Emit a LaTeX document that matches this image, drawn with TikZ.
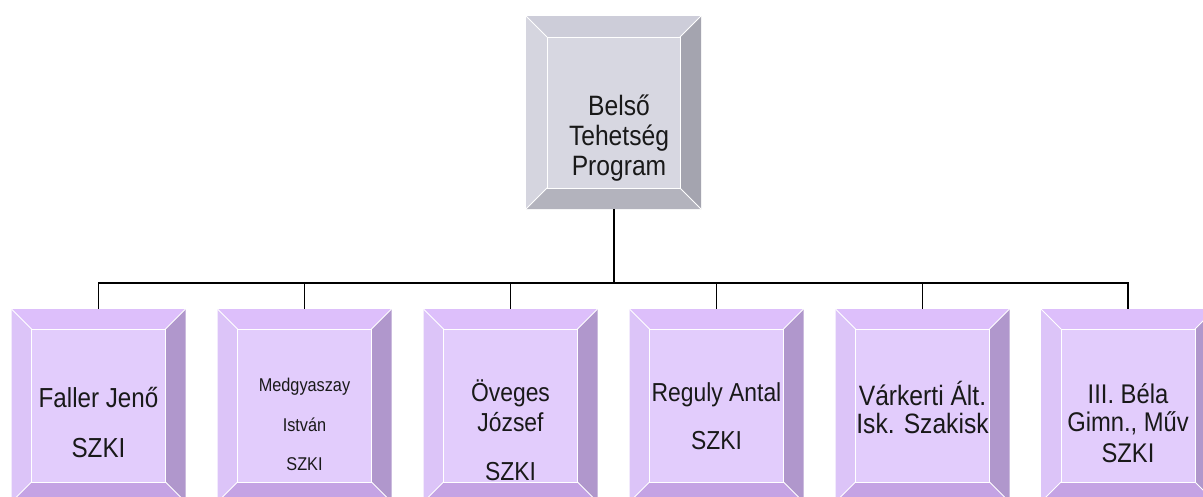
\documentclass[tikz,border=0pt]{standalone}
\usepackage{fontspec}
\setmainfont{Liberation Sans}[FakeStretch=0.88]
\definecolor{gface}{RGB}{215,215,225}
\definecolor{gtop}{RGB}{205,205,217}
\definecolor{gleft}{RGB}{213,213,223}
\definecolor{gright}{RGB}{164,164,175}
\definecolor{gbottom}{RGB}{179,179,189}
\definecolor{pface}{RGB}{226,204,252}
\definecolor{ptop}{RGB}{221,191,251}
\definecolor{pleft}{RGB}{220,196,248}
\definecolor{pright}{RGB}{176,151,204}
\definecolor{pbottom}{RGB}{196,163,228}
\tikzset{
  conn/.style={draw=black, line width=1.5pt},
  face/.style={draw=white, line width=1pt, inner sep=0pt, outer sep=0pt},
  bevline/.style={draw=white, line width=1pt},
  lbl/.style={anchor=base, inner sep=0pt, text=black!90},
}
\newcommand{\bevbox}[7]{%
  \pgfmathsetmacro\xa{#2-#4}\pgfmathsetmacro\xb{#2+#4}%
  \pgfmathsetmacro\ya{#3-#5}\pgfmathsetmacro\yb{#3+#5}%
  \pgfmathsetmacro\xc{#2-#4+#6}\pgfmathsetmacro\xd{#2+#4-#6}%
  \pgfmathsetmacro\yc{#3-#5+#6}\pgfmathsetmacro\yd{#3+#5-#6}%
  \pgfmathsetmacro\iw{2*(#4-#6)}\pgfmathsetmacro\ih{2*(#5-#6)}%
  \fill[#7top] (\xa,\ya) -- (\xb,\ya) -- (\xd,\yc) -- (\xc,\yc) -- cycle;
  \fill[#7left] (\xa,\ya) -- (\xc,\yc) -- (\xc,\yd) -- (\xa,\yb) -- cycle;
  \fill[#7right] (\xb,\ya) -- (\xd,\yc) -- (\xd,\yd) -- (\xb,\yb) -- cycle;
  \fill[#7bottom] (\xa,\yb) -- (\xc,\yd) -- (\xd,\yd) -- (\xb,\yb) -- cycle;
  \draw[bevline] (\xa,\ya) -- (\xc,\yc) (\xb,\ya) -- (\xd,\yc)
                 (\xa,\yb) -- (\xc,\yd) (\xb,\yb) -- (\xd,\yd);
  \node[face, fill=#7face, minimum width=\iw pt, minimum height=\ih pt] (#1) at (#2,#3) {};
}
\begin{document}
\begin{tikzpicture}[x=1pt,y=-1pt]
\useasboundingbox (0,0) rectangle (1203,496);
\clip (0,0) rectangle (1203,496);
\fill[white] (0,0) rectangle (1203,496);

% top box
\bevbox{root}{613.5}{112.5}{87.5}{96.5}{21}{g}
\node[lbl, font=\fontsize{28}{28}\selectfont] (rootA) at (619,115) {Belső};
\node[lbl, font=\fontsize{28}{28}\selectfont] (rootB) at (619,145) {Tehetség};
\node[lbl, font=\fontsize{28}{28}\selectfont] (rootC) at (619,175) {Program};

% child boxes
\bevbox{k1}{98.5}{405.5}{87}{96.5}{20}{p}
\bevbox{k2}{304.5}{405.5}{87}{96.5}{20}{p}
\bevbox{k3}{510.5}{405.5}{87}{96.5}{20}{p}
\bevbox{k4}{716.5}{405.5}{87}{96.5}{20}{p}
\bevbox{k5}{922.5}{405.5}{87}{96.5}{20}{p}
\bevbox{k6}{1128}{405.5}{87}{96.5}{20}{p}

\node[lbl, font=\fontsize{27.5}{28}\selectfont] (k1a) at (98.5,407) {Faller Jenő};
\node[lbl, font=\fontsize{27.5}{28}\selectfont] (k1b) at (98.5,457) {SZKI};

\node[lbl, font=\fontsize{18.5}{20}\selectfont] (k2a) at (304.5,391.7) {Medgyaszay};
\node[lbl, font=\fontsize{18.5}{20}\selectfont] (k2b) at (304.5,431.7) {István};
\node[lbl, font=\fontsize{18.5}{20}\selectfont] (k2c) at (304.5,470.7) {SZKI};

\node[lbl, font=\fontsize{26}{28}\selectfont] (k3a) at (510.5,401.7) {Öveges};
\node[lbl, font=\fontsize{26}{28}\selectfont] (k3b) at (510.5,431.7) {József};
\node[lbl, font=\fontsize{26}{28}\selectfont] (k3c) at (510.5,480) {SZKI};

\node[lbl, font=\fontsize{26}{28}\selectfont] (k4a) at (716.5,401.7) {Reguly Antal};
\node[lbl, font=\fontsize{26}{28}\selectfont] (k4b) at (716.5,449.3) {SZKI};

\node[lbl, font=\fontsize{28}{28}\selectfont] (k5a) at (922.5,405) {Várkerti Ált.};
\node[lbl, font=\fontsize{28}{28}\selectfont] (k5b) at (922.5,433) {Isk. Szakisk};

\node[lbl, font=\fontsize{27}{28}\selectfont] (k6a) at (1128,403) {III. Béla};
\node[lbl, font=\fontsize{27}{28}\selectfont] (k6b) at (1128,431) {Gimn., Műv};
\node[lbl, font=\fontsize{27}{28}\selectfont] (k6c) at (1128,462) {SZKI};

% connectors
\coordinate (rootbot) at (614,209);
\coordinate (bus) at (614,283);
\foreach \i/\x in {1/98.5,2/304.5,3/510.5,4/716.5,5/922.5,6/1128}
  \coordinate (t\i) at (\x,309);
\draw[conn] (rootbot) -- (bus);
\draw[conn, line cap=rect] (t1 |- bus) -- (t6 |- bus);
\foreach \i in {1,...,6}
  \draw[conn] (t\i |- bus) -- (t\i);
\end{tikzpicture}
\end{document}
